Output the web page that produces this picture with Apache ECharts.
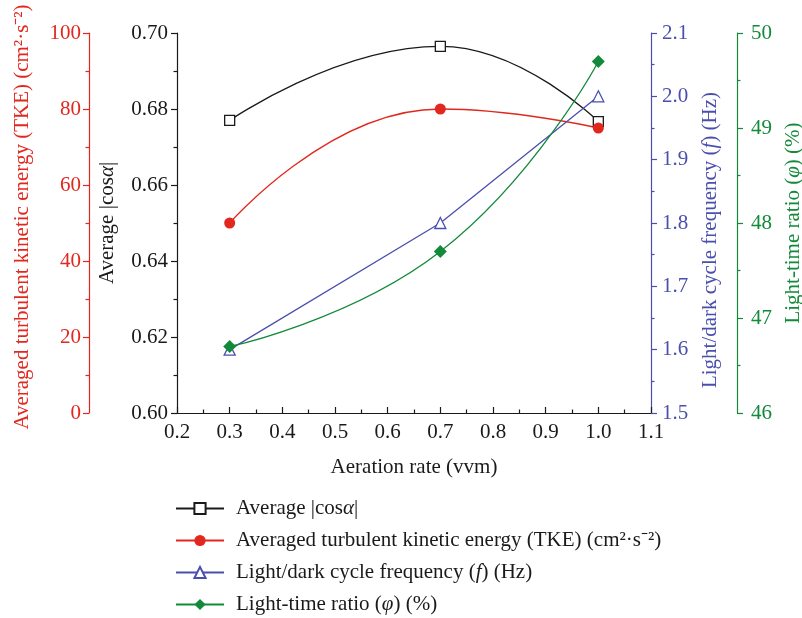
<!DOCTYPE html>
<html><head><meta charset="utf-8">
<script src="https://cdn.jsdelivr.net/npm/echarts@6/dist/echarts.min.js"></script>
<style>html,body{margin:0;padding:0;background:#fff}#c{width:802px;height:618px}</style>
</head><body><div id="c"></div>
<script>
// ---- data ----
const aeration = [0.3, 0.7, 1.0];
const cosAlpha = [0.677, 0.6965, 0.6767];
const tke = [50, 80, 75];
const freq = [1.6, 1.8, 2.0];
const lightRatio = [46.7, 47.7, 49.7];
const xRange = [0.2, 1.1, 0.1];
const cosRange = [0.60, 0.70, 0.02];
const tkeRange = [0, 100, 20];
const freqRange = [1.5, 2.1, 0.1];
const ratioRange = [46, 50, 1];
const seriesNames = ['Average |cos{i|α}|', 'Averaged turbulent kinetic energy (TKE) (cm²·s⁻²)', 'Light/dark cycle frequency ({i|f}) (Hz)', 'Light-time ratio ({i|φ}) (%)'];

const FONT = 'Liberation Serif';
const BLACK = '#1a1a1a', RED = '#e2271e', BLUE = '#4a4fae', GREEN = '#138a3a';
const FS = 21;

function pairs(ys) { return aeration.map((x, i) => [x, ys[i]]); }
function rich(color) {
  return { i: { fontStyle: 'italic', fontFamily: FONT, fontSize: FS, color: color } };
}
function yAx(range, color, pos, offset, name, gap, dec, margin, namePad) {
  return {
    type: 'value', position: pos, offset: offset,
    min: range[0], max: range[1], interval: range[2],
    name: name, nameLocation: 'middle', nameGap: gap,
    nameTextStyle: { color: color, fontFamily: FONT, fontSize: FS, rich: rich(color), padding: namePad },
    axisLine: { show: true, lineStyle: { color: color, width: 1.2 } },
    axisTick: { show: true, inside: false, length: 6, lineStyle: { color: color, width: 1.2 } },
    minorTick: { show: true, splitNumber: 2, length: 3.5, lineStyle: { color: color, width: 1.2 } },
    axisLabel: { color: color, fontFamily: FONT, fontSize: FS, margin: margin,
      formatter: v => v.toFixed(dec) },
    splitLine: { show: false }, minorSplitLine: { show: false }
  };
}

const chart = echarts.init(document.getElementById('c'), null, { renderer: 'canvas' });
const option = {
  animation: false,
  backgroundColor: '#fff',
  textStyle: { fontFamily: FONT },
  grid: { left: 177, right: 151, top: 33, bottom: 205, containLabel: false, outerBoundsMode: 'none' },
  xAxis: {
    type: 'value', min: xRange[0], max: xRange[1], interval: xRange[2],
    name: 'Aeration rate (vvm)', nameLocation: 'middle', nameGap: 44,
    nameTextStyle: { color: BLACK, fontFamily: FONT, fontSize: FS },
    axisLine: { show: true, onZero: false, lineStyle: { color: BLACK, width: 1.2 } },
    axisTick: { show: true, inside: true, length: 6, lineStyle: { color: BLACK, width: 1.2 } },
    minorTick: { show: true, splitNumber: 2, length: 3.5, lineStyle: { color: BLACK, width: 1.2 } },
    axisLabel: { color: BLACK, fontFamily: FONT, fontSize: FS, margin: 9, formatter: v => v.toFixed(1) },
    splitLine: { show: false }, minorSplitLine: { show: false }
  },
  yAxis: [
    yAx(cosRange, BLACK, 'left', 0, 'Average |cos{i|α}|', 59.5, 2, 9, [0, 0, 0, 0]),
    yAx(tkeRange, RED, 'left', 88, seriesNames[1], 56.5, 0, 8, [0, 0, 0, 12]),
    yAx(freqRange, BLUE, 'right', 0, seriesNames[2], 48.5, 1, 11, [0, 34, 0, 0]),
    yAx(ratioRange, GREEN, 'right', 86, seriesNames[3], 45.5, 0, 14, [0, 0, 0, 0])
  ],
  legend: {
    orient: 'vertical', left: 175, top: 497, padding: 0, itemWidth: 48, itemHeight: 14, itemGap: 9,
    data: seriesNames,
    textStyle: { color: BLACK, fontFamily: FONT, fontSize: FS, lineHeight: 23, padding: [0, 0, 0, 7], rich: rich(BLACK) }
  },
  series: [
    { name: seriesNames[0], type: 'line', yAxisIndex: 0, data: pairs(cosAlpha), smooth: 0.5,
      symbol: 'rect', symbolSize: 10,
      lineStyle: { color: BLACK, width: 1.3 },
      itemStyle: { color: '#fff', borderColor: BLACK, borderWidth: 1.3 } },
    { name: seriesNames[1], type: 'line', yAxisIndex: 1, data: pairs(tke), smooth: 0.5,
      symbol: 'circle', symbolSize: 11,
      lineStyle: { color: RED, width: 1.3 },
      itemStyle: { color: RED, borderColor: RED, borderWidth: 0 } },
    { name: seriesNames[2], type: 'line', yAxisIndex: 2, data: pairs(freq), smooth: false,
      symbol: 'triangle', symbolSize: 11,
      lineStyle: { color: BLUE, width: 1.3 },
      itemStyle: { color: '#fff', borderColor: BLUE, borderWidth: 1.3 } },
    { name: seriesNames[3], type: 'line', yAxisIndex: 3, data: pairs(lightRatio), smooth: 0.5,
      symbol: 'diamond', symbolSize: 13,
      lineStyle: { color: GREEN, width: 1.3 },
      itemStyle: { color: GREEN, borderColor: GREEN, borderWidth: 0 } }
  ]
};
chart.setOption(option);
</script></body></html>
